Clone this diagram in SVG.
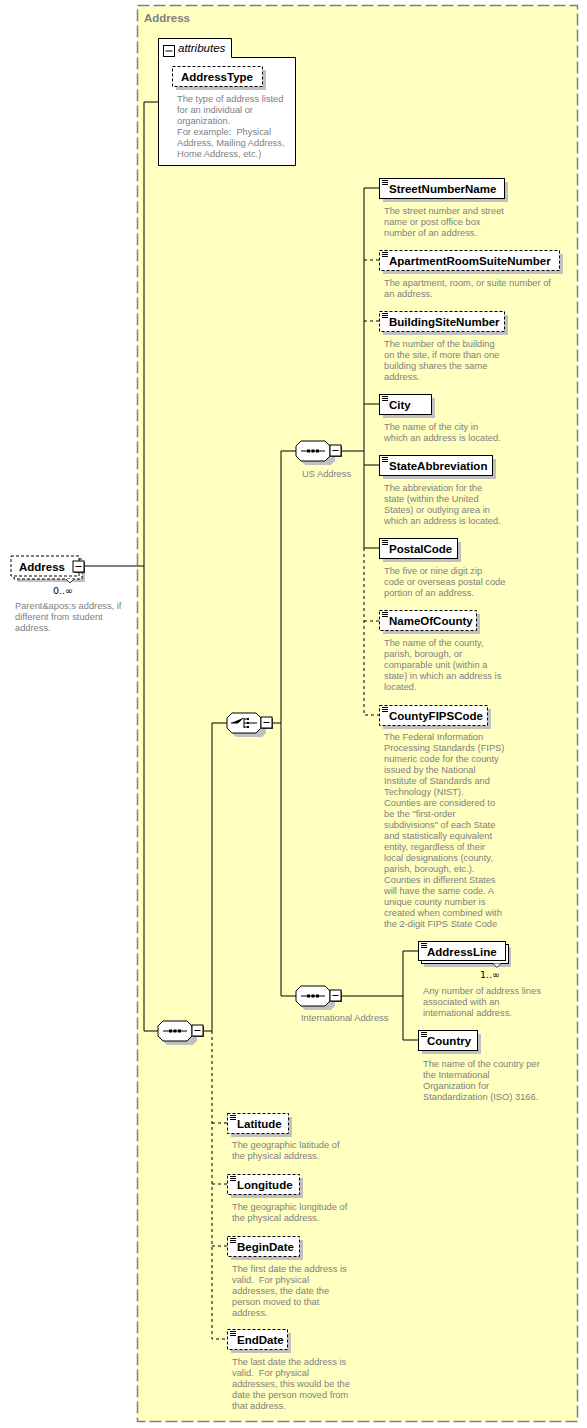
<svg xmlns="http://www.w3.org/2000/svg" xmlns:xlink="http://www.w3.org/1999/xlink" width="587" height="1428" viewBox="0 0 587 1428">
<style>
.lbl{font-family:"Liberation Sans",Arial,sans-serif;font-weight:bold;font-size:11.5px;fill:#000}
.desc{font-family:"Liberation Sans",Arial,sans-serif;font-size:9.3px;fill:#808080;white-space:pre}
.cap{font-family:"Liberation Sans",Arial,sans-serif;font-size:9.3px;fill:#808080}
.mult{font-family:"DejaVu Sans",sans-serif;font-size:9.5px;fill:#000}
.box{fill:#fff;stroke:#000;stroke-width:1}
.opt{fill:#fff;stroke:#000;stroke-width:1;stroke-dasharray:3,2}
.shd{fill:#c0c0c0}
.ln{stroke:#000;stroke-width:1;fill:none}
.dl{stroke:#000;stroke-width:1;fill:none;stroke-dasharray:3,3}
.ico{stroke:#000;stroke-width:1}
</style>
<defs>
<g id="elIcon"><path d="M3 2.5H9M3 4.5H9M3 6.5H9" class="ico"/></g>
<g id="minus"><rect x="1" y="1" width="11" height="11" fill="#404040"/><rect x="0" y="0" width="11" height="11" class="box"/><path d="M2.5 5.5H8.5" class="ico"/></g>
<g id="oct">
<path d="M9 4H35L39 8V20L35 24H9L5 20V8Z" class="shd"/>
<path d="M5 0H29L34 5V15L29 20H5L0 15V5Z" fill="#fff" stroke="#000"/>
</g>
<g id="seq">
<use xlink:href="#oct"/>
<path d="M5 10H29" class="ico"/>
<rect x="11" y="8.5" width="3" height="3"/><rect x="15.5" y="8.5" width="3" height="3"/><rect x="20" y="8.5" width="3" height="3"/>
<use xlink:href="#minus" x="34" y="4"/>
</g>
<g id="cho">
<use xlink:href="#oct"/>
<path d="M4 10H11L16 5M17 5V15M17 6H21M17 10H21M17 14H21M21 10H30" class="ico"/>
<rect x="20" y="5" width="2" height="2"/><rect x="20" y="9" width="2" height="2"/><rect x="20" y="13" width="2" height="2"/>
<use xlink:href="#minus" x="34" y="4"/>
</g>
</defs>

<g id="container">
<rect x="137.5" y="5.5" width="440" height="1416" fill="#ffffc0" stroke="#808080" stroke-width="1.5" stroke-dasharray="12,4"/>
<text x="144" y="22" class="lbl" style="fill:#808080">Address</text>
</g>

<g id="connectors">
<path d="M85 566H144M158 102H144V1031H158" class="ln"/>
<path d="M203 1031H212V723H227" class="ln"/>
<path d="M212 1031V1339H227M212 1123H227M212 1184H227M212 1246H227" class="dl"/>
<path d="M273 723H281M281 451V996H296M281 451H296" class="ln"/>
<path d="M341 451H364M364 188V548H379M364 188H379M364 404H379M364 465H379" class="ln"/>
<path d="M364 260H379M364 321H379M364 548V715H379M364 621H379" class="dl"/>
<path d="M341 996H403M403 951V1040H418M403 951H418" class="ln"/>
</g>

<g id="node-Address">
<rect x="17" y="562" width="68" height="20" class="shd"/>
<rect x="14" y="559" width="68" height="20" class="opt"/>
<rect x="11" y="556" width="68" height="20" class="opt"/>
<path d="M66 579L70 583L74 579" fill="#fff" stroke="#000" stroke-width="0.8"/>
<text x="19" y="571" class="lbl">Address</text>
<use xlink:href="#minus" x="73" y="561"/>
<text x="53" y="594" class="mult">0..∞</text>
<text class="desc"><tspan x="15" y="609">Parent&amp;apos;s address, if</tspan><tspan x="15" y="620">different from student</tspan><tspan x="15" y="631">address.</tspan></text>
</g>

<g id="node-attributes">
<path d="M158.5 57.5V38.5H231.5V57.5H295.5V165.5H158.5Z" class="box"/>
<rect x="163.5" y="45.5" width="11" height="11" fill="#fff" stroke="#000"/>
<path d="M165.5 51H172.5" class="ico"/>
<text x="178" y="52" style="font-family:'Liberation Sans',Arial,sans-serif;font-style:italic;font-size:11.5px">attributes</text>
</g>

<g id="node-AddressType">
<rect x="176" y="70" width="90" height="20" class="shd"/>
<rect x="172.5" y="66.5" width="90" height="20" class="opt"/>
<text x="181" y="81" class="lbl">AddressType</text>
<text class="desc" xml:space="preserve"><tspan x="177" y="102">The type of address listed</tspan><tspan x="177" y="113">for an individual or</tspan><tspan x="177" y="124">organization.</tspan><tspan x="177" y="135">For example:  Physical</tspan><tspan x="177" y="146">Address, Mailing Address,</tspan><tspan x="177" y="157">Home Address, etc.)</tspan></text>
</g>

<g id="node-seqMain"><use xlink:href="#seq" x="158" y="1021"/></g>
<g id="node-choice"><use xlink:href="#cho" x="227" y="713"/></g>
<g id="node-USAddress"><use xlink:href="#seq" x="296" y="441"/><text x="302" y="477" class="cap">US Address</text></g>
<g id="node-IntlAddress"><use xlink:href="#seq" x="296" y="986"/><text x="301" y="1021" class="cap">International Address</text></g>

<g id="node-StreetNumberName">
<rect x="383" y="182" width="125" height="20" class="shd"/>
<rect x="379.5" y="178.5" width="125" height="20" class="box"/>
<use xlink:href="#elIcon" x="379" y="178"/>
<text x="389" y="193" class="lbl">StreetNumberName</text>
<text class="desc"><tspan x="384" y="214">The street number and street</tspan><tspan x="384" y="225">name or post office box</tspan><tspan x="384" y="236">number of an address.</tspan></text>
</g>

<g id="node-ApartmentRoomSuiteNumber">
<rect x="383" y="254" width="180" height="20" class="shd"/>
<rect x="379.5" y="250.5" width="180" height="20" class="opt"/>
<use xlink:href="#elIcon" x="379" y="250"/>
<text x="389" y="265" class="lbl">ApartmentRoomSuiteNumber</text>
<text class="desc"><tspan x="384" y="286">The apartment, room, or suite number of</tspan><tspan x="384" y="297">an address.</tspan></text>
</g>

<g id="node-BuildingSiteNumber">
<rect x="383" y="315" width="125" height="20" class="shd"/>
<rect x="379.5" y="311.5" width="125" height="20" class="opt"/>
<use xlink:href="#elIcon" x="379" y="311"/>
<text x="389" y="326" class="lbl">BuildingSiteNumber</text>
<text class="desc"><tspan x="384" y="347">The number of the building</tspan><tspan x="384" y="358">on the site, if more than one</tspan><tspan x="384" y="369">building shares the same</tspan><tspan x="384" y="380">address.</tspan></text>
</g>

<g id="node-City">
<rect x="383" y="398" width="52" height="20" class="shd"/>
<rect x="379.5" y="394.5" width="52" height="20" class="box"/>
<use xlink:href="#elIcon" x="379" y="394"/>
<text x="389" y="409" class="lbl">City</text>
<text class="desc"><tspan x="384" y="430">The name of the city in</tspan><tspan x="384" y="441">which an address is located.</tspan></text>
</g>

<g id="node-StateAbbreviation">
<rect x="383" y="459" width="113" height="20" class="shd"/>
<rect x="379.5" y="455.5" width="113" height="20" class="box"/>
<use xlink:href="#elIcon" x="379" y="455"/>
<text x="389" y="470" class="lbl">StateAbbreviation</text>
<text class="desc"><tspan x="384" y="491">The abbreviation for the</tspan><tspan x="384" y="502">state (within the United</tspan><tspan x="384" y="513">States) or outlying area in</tspan><tspan x="384" y="524">which an address is located.</tspan></text>
</g>

<g id="node-PostalCode">
<rect x="383" y="542" width="78" height="20" class="shd"/>
<rect x="379.5" y="538.5" width="78" height="20" class="box"/>
<use xlink:href="#elIcon" x="379" y="538"/>
<text x="389" y="553" class="lbl">PostalCode</text>
<text class="desc"><tspan x="384" y="574">The five or nine digit zip</tspan><tspan x="384" y="585">code or overseas postal code</tspan><tspan x="384" y="596">portion of an address.</tspan></text>
</g>

<g id="node-NameOfCounty">
<rect x="383" y="614" width="97" height="20" class="shd"/>
<rect x="379.5" y="610.5" width="97" height="20" class="opt"/>
<use xlink:href="#elIcon" x="379" y="610"/>
<text x="389" y="625" class="lbl">NameOfCounty</text>
<text class="desc"><tspan x="384" y="646">The name of the county,</tspan><tspan x="384" y="657">parish, borough, or</tspan><tspan x="384" y="668">comparable unit (within a</tspan><tspan x="384" y="679">state) in which an address is</tspan><tspan x="384" y="690">located.</tspan></text>
</g>

<g id="node-CountyFIPSCode">
<rect x="383" y="709" width="108" height="20" class="shd"/>
<rect x="379.5" y="705.5" width="108" height="20" class="opt"/>
<use xlink:href="#elIcon" x="379" y="705"/>
<text x="389" y="720" class="lbl">CountyFIPSCode</text>
<text class="desc"><tspan x="384" y="740">The Federal Information</tspan><tspan x="384" y="751">Processing Standards (FIPS)</tspan><tspan x="384" y="762">numeric code for the county</tspan><tspan x="384" y="773">issued by the National</tspan><tspan x="384" y="784">Institute of Standards and</tspan><tspan x="384" y="795">Technology (NIST).</tspan><tspan x="384" y="806">Counties are considered to</tspan><tspan x="384" y="817">be the "first-order</tspan><tspan x="384" y="828">subdivisions" of each State</tspan><tspan x="384" y="839">and statistically equivalent</tspan><tspan x="384" y="850">entity, regardless of their</tspan><tspan x="384" y="861">local designations (county,</tspan><tspan x="384" y="872">parish, borough, etc.).</tspan><tspan x="384" y="883">Counties in different States</tspan><tspan x="384" y="894">will have the same code. A</tspan><tspan x="384" y="905">unique county number is</tspan><tspan x="384" y="916">created when combined with</tspan><tspan x="384" y="927">the 2-digit FIPS State Code</tspan></text>
</g>

<g id="node-AddressLine">
<rect x="424" y="947" width="87" height="20" class="shd"/>
<rect x="421.5" y="944.5" width="87" height="19" class="box"/>
<rect x="418.5" y="941.5" width="87" height="19" class="box"/>
<path d="M493 963.5L497 967.5L501 963.5" fill="#fff" stroke="#000" stroke-width="0.8"/>
<use xlink:href="#elIcon" x="418" y="941"/>
<text x="427" y="956" class="lbl">AddressLine</text>
<text x="480" y="978" class="mult">1..∞</text>
<text class="desc"><tspan x="423" y="994">Any number of address lines</tspan><tspan x="423" y="1005">associated with an</tspan><tspan x="423" y="1016">international address.</tspan></text>
</g>

<g id="node-Country">
<rect x="422" y="1034" width="59" height="20" class="shd"/>
<rect x="418.5" y="1030.5" width="59" height="20" class="box"/>
<use xlink:href="#elIcon" x="418" y="1030"/>
<text x="427" y="1045" class="lbl">Country</text>
<text class="desc"><tspan x="423" y="1067">The name of the country per</tspan><tspan x="423" y="1078">the International</tspan><tspan x="423" y="1089">Organization for</tspan><tspan x="423" y="1100">Standardization (ISO) 3166.</tspan></text>
</g>

<g id="node-Latitude">
<rect x="231" y="1117" width="61" height="20" class="shd"/>
<rect x="227.5" y="1113.5" width="61" height="20" class="opt"/>
<use xlink:href="#elIcon" x="227" y="1113"/>
<text x="237" y="1128" class="lbl">Latitude</text>
<text class="desc"><tspan x="232" y="1148">The geographic latitude of</tspan><tspan x="232" y="1159">the physical address.</tspan></text>
</g>

<g id="node-Longitude">
<rect x="231" y="1178" width="72" height="20" class="shd"/>
<rect x="227.5" y="1174.5" width="72" height="20" class="opt"/>
<use xlink:href="#elIcon" x="227" y="1174"/>
<text x="237" y="1189" class="lbl">Longitude</text>
<text class="desc"><tspan x="232" y="1210">The geographic longitude of</tspan><tspan x="232" y="1221">the physical address.</tspan></text>
</g>

<g id="node-BeginDate">
<rect x="231" y="1240" width="72" height="20" class="shd"/>
<rect x="227.5" y="1236.5" width="72" height="20" class="opt"/>
<use xlink:href="#elIcon" x="227" y="1236"/>
<text x="237" y="1251" class="lbl">BeginDate</text>
<text class="desc" xml:space="preserve"><tspan x="232" y="1272">The first date the address is</tspan><tspan x="232" y="1283">valid.  For physical</tspan><tspan x="232" y="1294">addresses, the date the</tspan><tspan x="232" y="1305">person moved to that</tspan><tspan x="232" y="1316">address.</tspan></text>
</g>

<g id="node-EndDate">
<rect x="231" y="1333" width="60" height="20" class="shd"/>
<rect x="227.5" y="1329.5" width="60" height="20" class="opt"/>
<use xlink:href="#elIcon" x="227" y="1329"/>
<text x="237" y="1344" class="lbl">EndDate</text>
<text class="desc" xml:space="preserve"><tspan x="232" y="1365">The last date the address is</tspan><tspan x="232" y="1376">valid.  For physical</tspan><tspan x="232" y="1387">addresses, this would be the</tspan><tspan x="232" y="1398">date the person moved from</tspan><tspan x="232" y="1409">that address.</tspan></text>
</g>
</svg>
